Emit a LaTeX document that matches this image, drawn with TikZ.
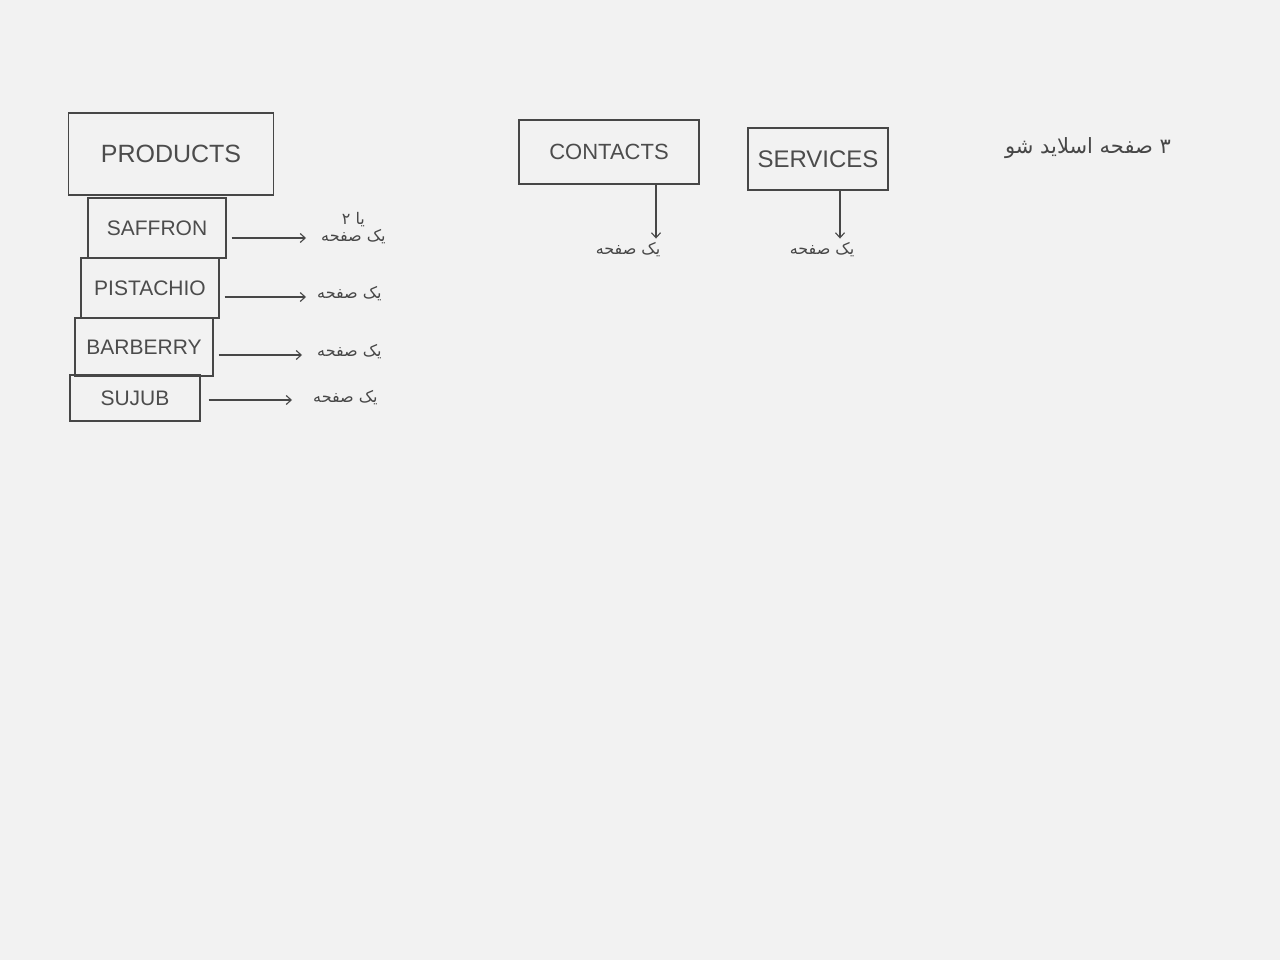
\documentclass[tikz,border=0pt]{standalone}
\usepackage{fontspec}
\setmainfont{Liberation Sans}
\newfontfamily\arabicfont[Script=Arabic]{DejaVu Sans}
\TeXXeTstate=1
\usetikzlibrary{arrows.meta}
\begin{document}
\begin{tikzpicture}[x=1pt,y=-1pt,
  box/.style={draw=black!72, line width=1.3pt, inner sep=0pt, text=black!70},
  item/.style={box, minimum width=138pt, font=\fontsize{21}{21}\selectfont},
  fa/.style={font=\arabicfont\fontsize{16}{20}\selectfont, text=black!72, align=center, inner sep=1pt},
  link/.style={draw=black!72, line width=1.1pt, -{Straight Barb[length=5pt,width=9pt]}}]
\fill[black!5] (0,0) rectangle (1280,960);
\useasboundingbox (0,0) rectangle (1280,960);

% Products column
\node[box, font=\fontsize{25}{25}\selectfont, minimum width=205pt, minimum height=82pt] (products) at (171,154) {PRODUCTS};
\node[item, minimum height=60pt] (saffron)   at (157,228) {SAFFRON};
\node[item, minimum height=60pt] (pistachio) at (150,288) {PISTACHIO};
\node[item, minimum height=58pt] (barberry)  at (144,347) {BARBERRY};
\node[item, minimum width=130pt, minimum height=46pt] (sujub) at (135,398) {SUJUB};

% Page labels
\node[fa, anchor=west] (p1) at (320,228) {\beginR یا ۲\endR\\[-3pt]\beginR یک صفحه\endR};
\node[fa, anchor=west] (p2) at (316,294) {\beginR یک صفحه\endR};
\node[fa, anchor=west] (p3) at (316,352) {\beginR یک صفحه\endR};
\node[fa, anchor=west] (p4) at (312,398) {\beginR یک صفحه\endR};

\path ([xshift=5pt,yshift=-10pt]saffron.east) coordinate (s1)
      ([xshift=5pt,yshift=-9pt]pistachio.east) coordinate (s2)
      ([xshift=5pt,yshift=-8pt]barberry.east) coordinate (s3)
      ([xshift=8pt,yshift=-2pt]sujub.east) coordinate (s4);
\draw[link, shorten >=14pt] (s1) -- (s1 -| p1.west);
\draw[link, shorten >=10pt] (s2) -- (s2 -| p2.west);
\draw[link, shorten >=14pt] (s3) -- (s3 -| p3.west);
\draw[link, shorten >=20pt] (s4) -- (s4 -| p4.west);

% Contacts and services
\node[box, font=\fontsize{22}{22}\selectfont, minimum width=180pt, minimum height=64pt] (contacts) at (609,152) {CONTACTS};
\node[box, font=\fontsize{24}{24}\selectfont, minimum width=140pt, minimum height=62pt] (services) at (818,159) {SERVICES};
\node[fa] (cpage) at (628,250) {\beginR یک صفحه\endR};
\node[fa] (spage) at (822,250) {\beginR یک صفحه\endR};
\path ([xshift=47pt]contacts.south) coordinate (c1)
      ([xshift=22pt]services.south) coordinate (v1);
\draw[link, shorten >=3pt] (c1) -- (c1 |- cpage.north);
\draw[link, shorten >=3pt] (v1) -- (v1 |- spage.north);

% Note top right
\node[fa, font=\arabicfont\fontsize{21}{24}\selectfont] (note) at (1088,148) {\beginR ۳ صفحه اسلاید شو\endR};
\end{tikzpicture}
\end{document}
